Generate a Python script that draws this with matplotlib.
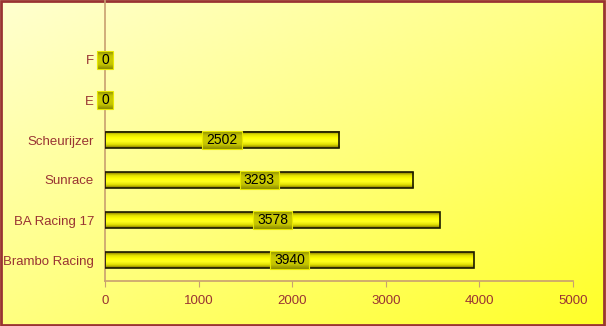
import numpy as np
import matplotlib
matplotlib.use("Agg")
import matplotlib.pyplot as plt
from matplotlib.patches import Rectangle
from matplotlib.colors import LinearSegmentedColormap

plt.rcParams['font.family'] = ['Liberation Sans', 'DejaVu Sans']

teams = ["Brambo Racing", "BA Racing 17", "Sunrace", "Scheurijzer", "E", "F"]
points = [3940, 3578, 3293, 2502, 0, 0]
xticks = [0, 1000, 2000, 3000, 4000, 5000]

text_col = "#993333"
axis_col = "#c8a070"

fig = plt.figure(figsize=(6.06, 3.26), dpi=100)

# background gradient, pale at top-left, strong yellow bottom-right
bg = fig.add_axes([0, 0, 1, 1], zorder=0)
gx, gy = np.meshgrid(np.linspace(0, 1, 200), np.linspace(0, 1, 120))
g = (gx + gy) / 2
bg_cmap = LinearSegmentedColormap.from_list("bg", ["#ffffd0", "#ffff80", "#ffff28"])
bg.imshow(g, cmap=bg_cmap, aspect="auto", extent=[0, 1, 0, 1], origin="upper")
bg.set_xlim(0, 1)
bg.set_ylim(0, 1)
bg.axis("off")
bg.add_patch(Rectangle((0.002, 0.003), 0.995, 0.994, transform=bg.transAxes,
                       fill=False, edgecolor="#993333", lw=2))

ax = fig.add_axes([105 / 606, (326 - 281) / 326, (573 - 105) / 606, 281 / 326], zorder=1)
ax.patch.set_alpha(0)
ax.set_xlim(0, 5000)
ax.set_ylim(-0.525, 6.5)

bar_cmap = LinearSegmentedColormap.from_list(
    "bar", ["#807000", "#e0e000", "#ffff00", "#ffff20", "#e0e000", "#807000"])
lab_cmap = LinearSegmentedColormap.from_list(
    "lab", ["#8a8a00", "#c4c400", "#cccc00", "#c4c400", "#8a8a00"])
grad = np.linspace(0, 1, 64).reshape(-1, 1)

h = 0.4
ypos = np.arange(len(teams))

# value labels first, so their sizes are measured with fixed limits
fig.canvas.draw()
renderer = fig.canvas.get_renderer()
inv = ax.transData.inverted()
boxes = []
for y, v in zip(ypos, points):
    xc = v / 2
    t = ax.text(xc, y, str(v), ha="center", va="center", fontsize=10,
                color="black", zorder=6)
    w = t.get_window_extent(renderer=renderer).width
    cx = ax.transData.transform((xc, y))[0]
    x0 = inv.transform((cx - w / 2 - 4, 0))[0]
    x1 = inv.transform((cx + w / 2 + 4, 0))[0]
    boxes.append((x0, x1, y))

for y, v in zip(ypos, points):
    if v > 0:
        ax.imshow(grad, cmap=bar_cmap, aspect="auto",
                  extent=[0, v, y - h / 2, y + h / 2], zorder=2)
        ax.add_patch(Rectangle((0, y - h / 2), v, h, fill=False,
                               edgecolor="#1a1a00", lw=1.2, zorder=3))

bh = 0.45
for x0, x1, y in boxes:
    im = ax.imshow(grad, cmap=lab_cmap, aspect="auto",
                   extent=[x0, x1, y - bh / 2, y + bh / 2], zorder=4)
    im.set_clip_on(False)
    ax.add_patch(Rectangle((x0, y - bh / 2), x1 - x0, bh, fill=False,
                           edgecolor="#e8e800", lw=0.8, zorder=5, clip_on=False))

ax.set_xlim(0, 5000)
ax.set_ylim(-0.525, 6.5)

ax.set_yticks(ypos)
ax.set_yticklabels(teams, fontsize=9.5, color=text_col)
ax.set_xticks(xticks)
ax.set_xticklabels([str(x) for x in xticks], fontsize=9.5, color=text_col)
ax.tick_params(axis="y", length=0, pad=8)
ax.tick_params(axis="x", length=4, color=axis_col, pad=6)
for s in ["top", "right"]:
    ax.spines[s].set_visible(False)
for s in ["left", "bottom"]:
    ax.spines[s].set_color(axis_col)
    ax.spines[s].set_linewidth(1.2)

fig.savefig("out.png", dpi=100)
